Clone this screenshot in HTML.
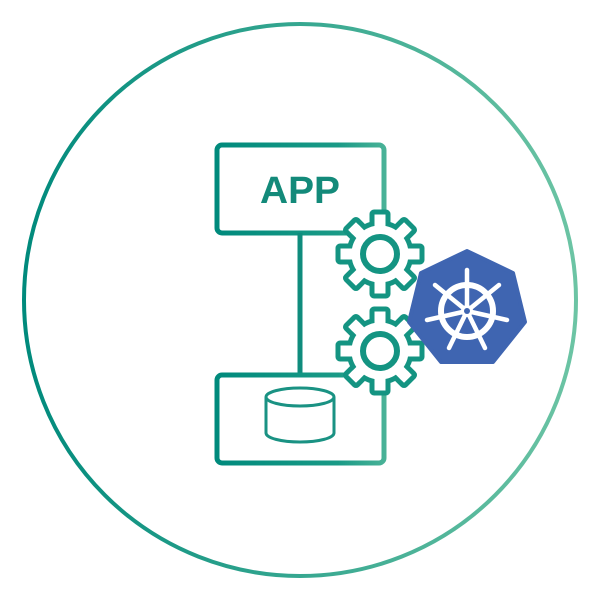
<!DOCTYPE html><html><head><style>body{margin:0;background:#fff}</style></head><body>
<svg width="600" height="594" viewBox="0 0 600 594" xmlns="http://www.w3.org/2000/svg">
<defs>
<linearGradient id="g" x1="0" x2="1" y1="0" y2="0"><stop offset="0" stop-color="#008a7c"/><stop offset="1" stop-color="#6cc4a4"/></linearGradient>
<linearGradient id="g2" gradientUnits="userSpaceOnUse" x1="215" x2="420" y1="0" y2="0"><stop offset="0" stop-color="#008a7c"/><stop offset="0.6" stop-color="#1a9a86"/><stop offset="1" stop-color="#6cc4a4"/></linearGradient>
<g id="gear">
<g fill="#fff" stroke="#149482" stroke-width="5" stroke-linejoin="round">
<rect x="-8" y="-42" width="16" height="18" rx="2"/>
<rect x="-8" y="-42" width="16" height="18" rx="2" transform="rotate(45)"/>
<rect x="-8" y="-42" width="16" height="18" rx="2" transform="rotate(90)"/>
<rect x="-8" y="-42" width="16" height="18" rx="2" transform="rotate(135)"/>
<rect x="-8" y="-42" width="16" height="18" rx="2" transform="rotate(180)"/>
<rect x="-8" y="-42" width="16" height="18" rx="2" transform="rotate(225)"/>
<rect x="-8" y="-42" width="16" height="18" rx="2" transform="rotate(270)"/>
<rect x="-8" y="-42" width="16" height="18" rx="2" transform="rotate(315)"/>
<circle r="31"/>
</g>
<g fill="#fff">
<rect x="-5.5" y="-36" width="11" height="12"/>
<rect x="-5.5" y="-36" width="11" height="12" transform="rotate(45)"/>
<rect x="-5.5" y="-36" width="11" height="12" transform="rotate(90)"/>
<rect x="-5.5" y="-36" width="11" height="12" transform="rotate(135)"/>
<rect x="-5.5" y="-36" width="11" height="12" transform="rotate(180)"/>
<rect x="-5.5" y="-36" width="11" height="12" transform="rotate(225)"/>
<rect x="-5.5" y="-36" width="11" height="12" transform="rotate(270)"/>
<rect x="-5.5" y="-36" width="11" height="12" transform="rotate(315)"/>
</g>
<circle r="17" fill="none" stroke="#149482" stroke-width="6"/>
</g>
</defs>
<circle cx="300" cy="300" r="276" fill="none" stroke="url(#g)" stroke-width="4"/>
<rect x="217" y="145" width="167" height="88" rx="5" fill="none" stroke="url(#g2)" stroke-width="5"/>
<text x="300" y="203" text-anchor="middle" font-family="Liberation Sans, sans-serif" font-weight="bold" font-size="38" fill="#138a7a" textLength="80" lengthAdjust="spacingAndGlyphs">APP</text>
<line x1="300" y1="233" x2="300" y2="375" stroke="#0f8c7d" stroke-width="5"/>
<rect x="217" y="375" width="167" height="88" rx="5" fill="none" stroke="url(#g2)" stroke-width="5"/>
<g fill="none" stroke="#1a9283" stroke-width="3">
<path d="M266 397 v36 a34 9 0 0 0 68 0 v-36"/>
<ellipse cx="300" cy="397" rx="34" ry="9"/>
</g>
<use href="#gear" x="380" y="254"/>
<use href="#gear" x="380" y="351"/>
<polygon points="467,251 513,273 525,322 493,362 441,362 409,322 421,273" fill="#3f65b1" stroke="#3f65b1" stroke-width="4" stroke-linejoin="round"/>
<g stroke="#fff" stroke-linecap="round" fill="none">
<circle cx="467" cy="311" r="26" stroke-width="6"/>
<g stroke-width="4.5">
<line x1="467" y1="311" x2="467" y2="270"/>
<line x1="467" y1="311" x2="499" y2="285" />
<line x1="467" y1="311" x2="507" y2="320"/>
<line x1="467" y1="311" x2="485" y2="348"/>
<line x1="467" y1="311" x2="449" y2="348"/>
<line x1="467" y1="311" x2="427" y2="320"/>
<line x1="467" y1="311" x2="435" y2="285"/>
</g>
</g>
<circle cx="467" cy="311" r="6" fill="#fff"/>
<circle cx="467" cy="311" r="3" fill="#3f65b1"/>
</svg>
</body></html>
